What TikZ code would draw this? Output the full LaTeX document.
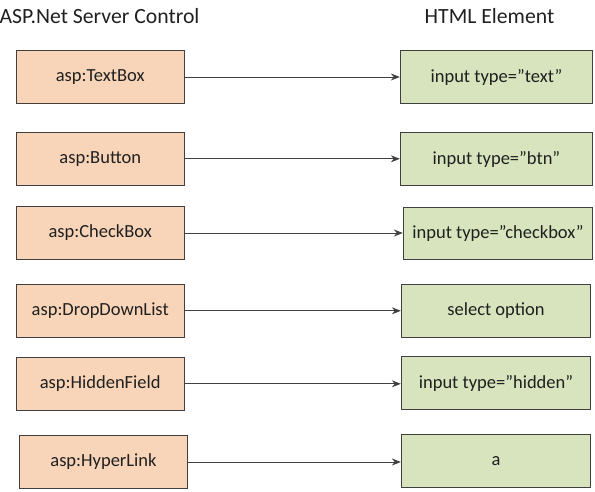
\documentclass[tikz,border=0pt]{standalone}
\usepackage{fontspec}
\setmainfont{Carlito}
\usetikzlibrary{arrows.meta}
\definecolor{peach}{HTML}{F8D5B8}
\definecolor{sage}{HTML}{D7E4BD}
\definecolor{edge}{HTML}{404040}
\definecolor{ink}{HTML}{202020}
\tikzset{
  aspbox/.style={draw=edge, fill=peach, line width=0.9pt, minimum height=52.6pt, inner sep=0pt, text=ink, font=\fontsize{18.5}{22}\selectfont},
  htmlbox/.style={draw=edge, fill=sage, line width=0.9pt, minimum height=52.6pt, inner sep=0pt, text=ink, font=\fontsize{18.5}{22}\selectfont},
  link/.style={draw=edge, line width=0.9pt, -{Stealth[length=9pt,width=7pt]}},
  title/.style={font=\fontsize{21.7}{25}\selectfont, inner sep=0pt, text=ink}
}
\begin{document}
\begin{tikzpicture}[x=1pt,y=-1pt]
\useasboundingbox (0,0) rectangle (595,491);
\node[title] (t1) at (99.5,16) {ASP.Net Server Control};
\node[title] (t2) at (489.5,16) {HTML Element};

\node[aspbox, minimum width=167.5pt] (l1) at (100.25,77) {asp:TextBox};
\node[aspbox, minimum width=167.5pt] (l2) at (100.25,158.8) {asp:Button};
\node[aspbox, minimum width=167.5pt] (l3) at (100.25,233) {asp:CheckBox};
\node[aspbox, minimum width=167.5pt] (l4) at (100.25,310.8) {asp:DropDownList};
\node[aspbox, minimum width=167.5pt] (l5) at (100.25,383.8) {asp:HiddenField};
\node[aspbox, minimum width=168.4pt] (l6) at (103.5,462) {asp:HyperLink};

\node[htmlbox, minimum width=192.4pt] (r1) at (496.5,77) {input type=”text”};
\node[htmlbox, minimum width=192.4pt] (r2) at (496.5,159) {input type=”btn”};
\node[htmlbox, minimum width=189.4pt] (r3) at (498,233.3) {input type=”checkbox”};
\node[htmlbox, minimum width=189.4pt] (r4) at (496,310.8) {select option};
\node[htmlbox, minimum width=189.4pt] (r5) at (496,383) {input type=”hidden”};
\node[htmlbox, minimum width=189.4pt] (r6) at (496,461.2) {a};

\foreach \i in {1,...,6}{
  \draw[link] (l\i.east) -- (l\i.east -| r\i.west);
}
\end{tikzpicture}
\end{document}
